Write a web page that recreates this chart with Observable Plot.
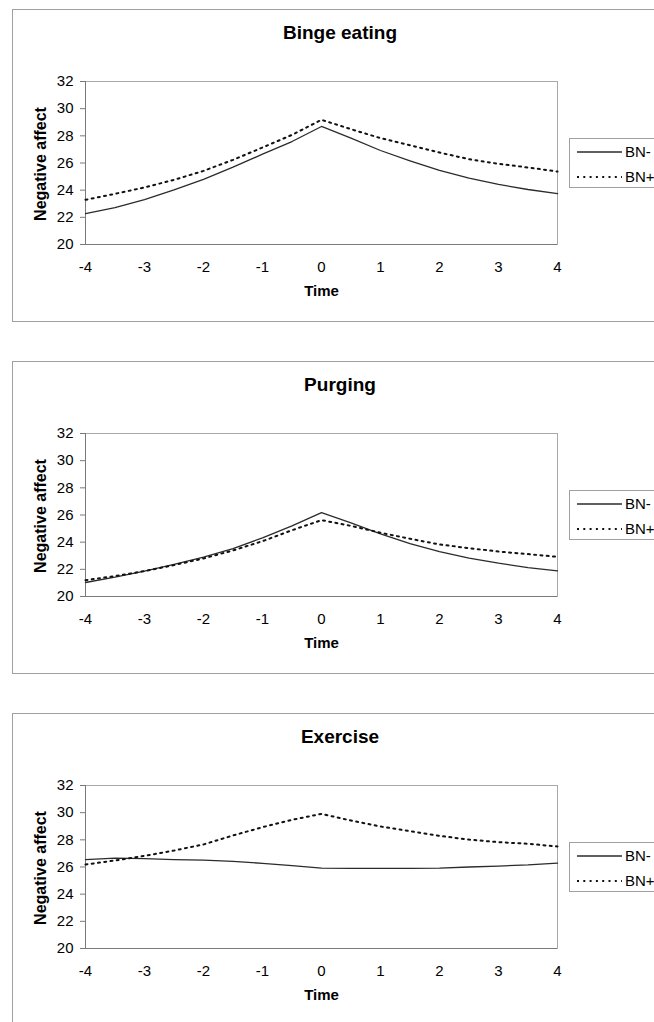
<!DOCTYPE html>
<html>
<head>
<meta charset="utf-8">
<script src="https://cdn.jsdelivr.net/npm/d3@7"></script>
<script src="https://cdn.jsdelivr.net/npm/@observablehq/plot@0.6"></script>
<style>
  html, body { margin: 0; padding: 0; background: #fff; }
  body { width: 654px; height: 1022px; position: relative; overflow: hidden;
         font-family: "Liberation Sans", Arial, sans-serif; color: #000; }
  .panel { position: absolute; left: 12px; width: 720px; height: 313px;
           border: 1.5px solid #a0a0a0; box-sizing: border-box; }
  .title { position: absolute; left: 0; width: 654px; top: 12px; text-align: center;
           font-weight: bold; font-size: 19px; line-height: 22px; }
  .chart { position: absolute; left: 0; }
  .legend { position: absolute; left: 569px; width: 120px; height: 50px; }
</style>
</head>
<body>
<script>
// ---- data ----
const time = [-4, -3.5, -3, -2.5, -2, -1.5, -1, -0.5, 0, 0.5, 1, 1.5, 2, 2.5, 3, 3.5, 4];
const panelTitles = ["Binge eating", "Purging", "Exercise"];
const seriesNames = ["BN-", "BN+"];
const xLabel = "Time";
const yLabel = "Negative affect";
const xTicks = [-4, -3, -2, -1, 0, 1, 2, 3, 4];
const yTicks = [20, 22, 24, 26, 28, 30, 32];

const bingeBNminus = [22.28, 22.72, 23.3, 24.02, 24.8, 25.69, 26.65, 27.58, 28.69, 27.83, 26.92, 26.16, 25.45, 24.88, 24.42, 24.05, 23.75];
const bingeBNplus  = [23.29, 23.73, 24.2, 24.76, 25.42, 26.23, 27.14, 28.07, 29.18, 28.49, 27.83, 27.31, 26.77, 26.28, 25.94, 25.67, 25.37];
const purgeBNminus = [21.03, 21.42, 21.87, 22.36, 22.9, 23.53, 24.32, 25.2, 26.18, 25.42, 24.61, 23.9, 23.31, 22.82, 22.45, 22.13, 21.89];
const purgeBNplus  = [21.2, 21.5, 21.87, 22.31, 22.8, 23.39, 24.07, 24.88, 25.62, 25.2, 24.69, 24.25, 23.83, 23.56, 23.31, 23.12, 22.92];
const exerBNminus  = [26.55, 26.65, 26.62, 26.55, 26.5, 26.42, 26.27, 26.1, 25.92, 25.9, 25.9, 25.9, 25.92, 26.0, 26.07, 26.15, 26.28];
const exerBNplus   = [26.18, 26.48, 26.82, 27.21, 27.66, 28.32, 28.93, 29.47, 29.91, 29.42, 28.98, 28.64, 28.29, 28.02, 27.83, 27.71, 27.51];

const panelSeries = [
  [bingeBNminus, bingeBNplus],
  [purgeBNminus, purgeBNplus],
  [exerBNminus, exerBNplus]
];

// ---- layout ----
const panelTops = [9, 361, 713];
const lineStyles = [
  { stroke: "#2b2b2b", strokeWidth: 1.3 },
  { stroke: "#111", strokeWidth: 2, strokeDasharray: "2,4.3" }
];

panelTitles.forEach((title, i) => {
  const top = panelTops[i];
  const panel = document.createElement("div");
  panel.className = "panel";
  panel.style.top = top + "px";
  const t = document.createElement("div");
  t.className = "title";
  t.textContent = title;
  panel.appendChild(t);
  document.body.appendChild(panel);

  const rows = [];
  panelSeries[i].forEach((vals, s) => {
    vals.forEach((v, k) => rows.push({ time: time[k], value: v, series: seriesNames[s] }));
  });

  const chart = Plot.plot({
    width: 654,
    height: 253,
    marginLeft: 85,
    marginRight: 97,
    marginTop: 20,
    marginBottom: 70,
    style: { fontFamily: "'Liberation Sans', Arial, sans-serif", fontSize: "15px", color: "#000", background: "transparent", overflow: "visible" },
    x: { domain: [-4, 4] },
    y: { domain: [20, 32] },
    marks: [
      Plot.frame({ stroke: "#a8a8a8" }),
      Plot.ruleY([20], { stroke: "#7a7a7a" }),
      Plot.ruleX([-4], { stroke: "#7a7a7a" }),
      Plot.axisY(yTicks, { tickSize: 5, tickPadding: 7, stroke: "#7a7a7a", label: null, fontSize: 15 }),
      Plot.axisX(xTicks, { tickSize: 0, tickPadding: 17, label: null, fontSize: 15, tickFormat: d => String(d) }),
      ...seriesNames.map((name, s) =>
        Plot.line(rows.filter(r => r.series === name), { x: "time", y: "value", ...lineStyles[s] })
      ),
      Plot.text([xLabel], { text: d => d, frameAnchor: "bottom", dy: 51, fontWeight: "bold", fontSize: 15 }),
      Plot.text([yLabel], { text: d => d, frameAnchor: "left", dx: -45, dy: 1, rotate: -90, textAnchor: "middle", fontWeight: "bold", fontSize: 16 })
    ]
  });
  chart.classList.add("chart");
  chart.style.position = "absolute";
  chart.style.left = "0px";
  chart.style.top = (top + 52) + "px";
  document.body.appendChild(chart);

  // legend
  const ns = "http://www.w3.org/2000/svg";
  const lg = document.createElementNS(ns, "svg");
  lg.setAttribute("width", 120);
  lg.setAttribute("height", 50);
  lg.setAttribute("class", "legend");
  lg.style.top = (top + 129) + "px";
  lg.style.overflow = "visible";
  const box = document.createElementNS(ns, "rect");
  box.setAttribute("x", 0.5); box.setAttribute("y", 0.5);
  box.setAttribute("width", 119); box.setAttribute("height", 49);
  box.setAttribute("fill", "#fff"); box.setAttribute("stroke", "#a0a0a0");
  lg.appendChild(box);
  seriesNames.forEach((name, s) => {
    const yy = s === 0 ? 14 : 39;
    const ln = document.createElementNS(ns, "line");
    ln.setAttribute("x1", 8); ln.setAttribute("x2", 53);
    ln.setAttribute("y1", yy); ln.setAttribute("y2", yy);
    ln.setAttribute("stroke", lineStyles[s].stroke);
    ln.setAttribute("stroke-width", lineStyles[s].strokeWidth);
    if (lineStyles[s].strokeDasharray) ln.setAttribute("stroke-dasharray", lineStyles[s].strokeDasharray);
    lg.appendChild(ln);
    const tx = document.createElementNS(ns, "text");
    tx.setAttribute("x", 56); tx.setAttribute("y", yy);
    tx.setAttribute("dy", "0.35em");
    tx.setAttribute("font-size", 15);
    tx.setAttribute("font-family", "'Liberation Sans', Arial, sans-serif");
    tx.textContent = name;
    lg.appendChild(tx);
  });
  document.body.appendChild(lg);
});
</script>
</body>
</html>
